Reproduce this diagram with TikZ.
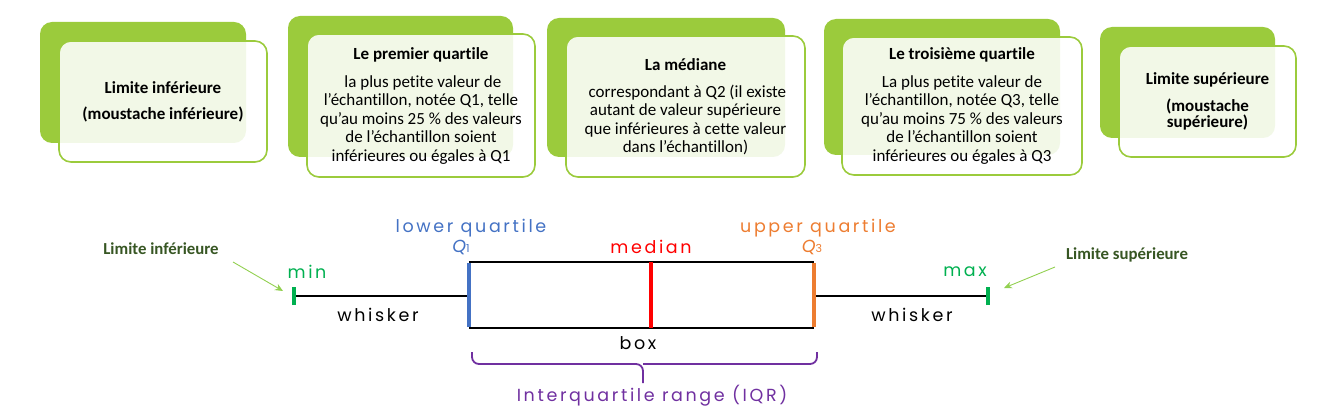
\documentclass[tikz,border=0pt]{standalone}
\usepackage{fontspec}
\setmainfont{Carlito}[Ligatures=NoCommon]
\newfontfamily\geofont{Poppins}[LetterSpace=15]
\usetikzlibrary{arrows.meta}
\definecolor{leaf}{HTML}{9BCB3C}
\definecolor{lblue}{HTML}{4472C4}
\definecolor{lred}{HTML}{FF0000}
\definecolor{lorange}{HTML}{ED7D31}
\definecolor{lgreen}{HTML}{00B050}
\definecolor{lpurple}{HTML}{7030A0}
\definecolor{dkgreen}{HTML}{375623}
\definecolor{arrgreen}{HTML}{92D050}
\begin{document}
\begin{tikzpicture}[x=1pt, y=-1pt, >=stealth,
    backbox/.style={fill=leaf, rounded corners=12pt, inner sep=0pt},
    frontbox/.style={draw=leaf, line width=1.6pt, fill=white, fill opacity=0.88,
      text opacity=1, rounded corners=12pt, align=center, inner sep=0pt,
      font=\fontsize{17}{18.5}\selectfont},
    geo/.style={font=\geofont\fontsize{17.5}{20}\selectfont},
    limlab/.style={text=dkgreen, font=\bfseries\fontsize{16.8}{18}\selectfont},
    pointer/.style={draw=arrgreen, line width=0.9pt, -{Stealth[length=8pt,width=7pt]}}]
        \useasboundingbox (0,0) rectangle (1329,411);

        % Back cards
        \node[backbox, minimum width=206pt, minimum height=121pt] (b1) at (143,82.5) {};
        \node[backbox, minimum width=225pt, minimum height=141pt] (b2) at (400.5,86.5) {};
        \node[backbox, minimum width=238pt, minimum height=139pt] (b3) at (666,87.5) {};
        \node[backbox, minimum width=236pt, minimum height=136pt] (b4) at (942,87) {};
        \node[backbox, minimum width=175pt, minimum height=111pt] (b5) at (1187.5,82.5) {};

        % Front cards
        \node[frontbox, minimum width=208pt, minimum height=121pt] (f1) at (163,101.5)
            {\textbf{Limite inférieure}\\[7.5pt]\textbf{(moustache inférieure)}};
        \node[frontbox, minimum width=228pt, minimum height=143pt] (f2) at (421,105.5)
            {\textbf{Le premier quartile}\\[9.5pt]
             \ la plus petite valeur de\\ l’échantillon, notée Q1, telle\\
             qu’au moins 25 \% des valeurs\\ de l’échantillon soient\\
             inférieures ou égales à Q1};
        \node[frontbox, minimum width=239pt, minimum height=141pt] (f3) at (685.5,106.5)
            {\textbf{La médiane}\\[8.5pt]
             \ correspondant à Q2 (il existe\\ autant de valeur supérieure\\
             que inférieures à cette valeur\\ dans l’échantillon)};
        \node[frontbox, minimum width=240pt, minimum height=138pt] (f4) at (962,106)
            {\textbf{Le troisième quartile}\\[9pt]
             La plus petite valeur de\\ l’échantillon, notée Q3, telle\\
             qu’au moins 75 \% des valeurs\\ de l’échantillon soient\\
             inférieures ou égales à Q3};
        \node[frontbox, minimum width=177pt, minimum height=111pt] (f5) at (1207.5,101.5)
            {\textbf{Limite supérieure}\\[8.5pt]\textbf{(moustache}\\[-3pt]\textbf{supérieure)}};

        % Box plot points
        \coordinate (min) at (294,296);
        \coordinate (max) at (988,296);
        \coordinate (q1t) at (469,262);
        \coordinate (q1m) at (469,296);
        \coordinate (q1b) at (469,328);
        \coordinate (q3t) at (814,262);
        \coordinate (q3m) at (814,296);
        \coordinate (q3b) at (814,328);
        \coordinate (medt) at (651,262);
        \coordinate (medb) at (651,328);

        % Whiskers and box
        \draw[line width=2pt] (min) -- (q1m);
        \draw[line width=2pt] (q3m) -- (max);
        \draw[line width=2pt] (q1t) -- (q3t);
        \draw[line width=2pt] (q1b) -- (q3b);
        \draw[lblue, line width=4pt] ([yshift=-1pt]q1t) -- ([yshift=1pt]q1b);
        \draw[lorange, line width=4pt] ([yshift=-1pt]q3t) -- ([yshift=1pt]q3b);
        \draw[lred, line width=4pt] (medt) -- (medb);
        \draw[lgreen, line width=4pt] ([yshift=-9pt]min) -- ([yshift=9pt]min);
        \draw[lgreen, line width=4pt] ([yshift=-9pt]max) -- ([yshift=9pt]max);

        % Brace
        \draw[lpurple, line width=1.8pt, rounded corners=7pt]
            (472,352) |- (643,364) -- (643,383);
        \draw[lpurple, line width=1.8pt, rounded corners=7pt]
            (817,352) |- (643,364);

        % Labels
        \node[geo, text=lblue] (lowq) at (471,228) {lower quartile};
        \node[geo, text=lblue] (q1lab) at (461,247) {{\itshape Q}{\fontsize{11}{11}\selectfont 1}};
        \node[geo, text=lred] (medlab) at (651,247) {median};
        \node[geo, text=lorange] (upq) at (818,228) {upper quartile};
        \node[geo, text=lorange] (q3lab) at (812,247) {{\itshape Q}{\fontsize{11}{11}\selectfont 3}};
        \node[geo, text=lgreen] (minlab) at (307,272) {min};
        \node[geo, text=lgreen] (maxlab) at (965,272) {max};
        \node[geo] (whiskl) at (378,315) {whisker};
        \node[geo] (whiskr) at (912,315) {whisker};
        \node[geo] (boxlab) at (638,343) {box};
        \node[geo, text=lpurple] (iqr) at (652,396) {Interquartile range (IQR)};

        % Limits
        \node[limlab] (limin) at (161,249) {Limite inférieure};
        \node[limlab] (limax) at (1127,255) {Limite supérieure};
        \coordinate (ainf) at (233,262);
        \coordinate (tinf) at (283,291);
        \coordinate (asup) at (1055,267);
        \coordinate (tsup) at (1004,288);
        \draw[pointer] (ainf) -- (tinf);
        \draw[pointer] (asup) -- (tsup);
    \end{tikzpicture}
\end{document}
